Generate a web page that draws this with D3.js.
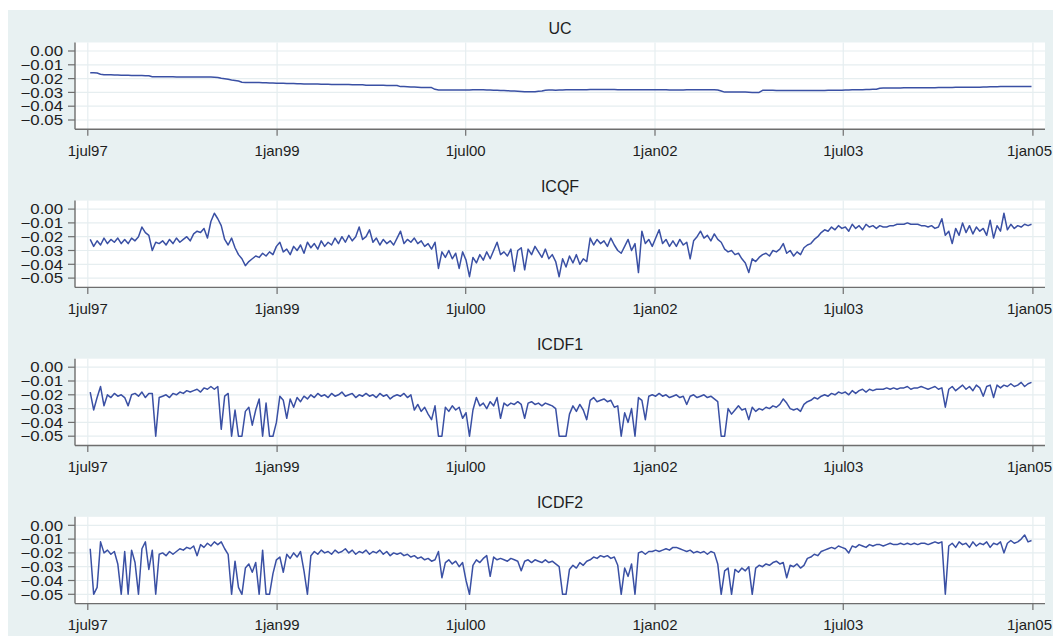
<!DOCTYPE html>
<html>
<head>
<meta charset="utf-8">
<script src="https://cdn.jsdelivr.net/npm/d3@7"></script>
<style>
    body { margin: 0; background: white; }
    text { font-family: "Liberation Sans", Arial, sans-serif; fill: #1e1e1e; }
</style>
</head>
<body>
<div id="chart-container"></div>
<script>
// sampled every 10 days from 8jul97
const startDate = new Date(1997, 6, 8);
const stepDays = 10;

const panelTitles = ['UC', 'ICQF', 'ICDF1', 'ICDF2'];

const ucValues = [
    -.0157,-.0158,-.016,-.0168,-.0172,-.0173,-.0173,-.0174,-.0174,-.0175,
    -.0175,-.0176,-.0177,-.0177,-.0178,-.0178,-.0179,-.0179,-.0186,-.0187,
    -.0187,-.0187,-.0187,-.0187,-.0187,-.0188,-.0188,-.0188,-.0188,-.0188,
    -.0188,-.0188,-.0188,-.0189,-.0189,-.0189,-.019,-.0192,-.0198,-.0201,
    -.0205,-.021,-.0213,-.0218,-.0226,-.0228,-.0228,-.0228,-.0229,-.0229,
    -.023,-.023,-.0231,-.0232,-.0233,-.0233,-.0234,-.0235,-.0236,-.0236,
    -.0237,-.0238,-.0239,-.0239,-.024,-.024,-.024,-.0241,-.0241,-.0241,
    -.0242,-.0242,-.0242,-.0243,-.0243,-.0243,-.0244,-.0244,-.0244,-.0245,
    -.0248,-.0248,-.0248,-.0249,-.0249,-.0249,-.025,-.025,-.025,-.025,
    -.0258,-.0258,-.0259,-.026,-.026,-.0262,-.0264,-.0265,-.0265,-.0265,
    -.0278,-.0282,-.0282,-.0282,-.0282,-.0282,-.0282,-.0283,-.0283,-.0283,
    -.0283,-.028,-.028,-.0281,-.0281,-.0282,-.0283,-.0284,-.0285,-.0286,
    -.0287,-.0288,-.0289,-.029,-.0291,-.0293,-.0296,-.0296,-.0295,-.0295,
    -.0292,-.029,-.0284,-.0283,-.0283,-.0284,-.0283,-.0282,-.0281,-.028,
    -.028,-.028,-.028,-.028,-.028,-.0279,-.0279,-.0279,-.0279,-.0279,
    -.0279,-.0279,-.0279,-.028,-.028,-.028,-.028,-.028,-.028,-.028,
    -.028,-.028,-.028,-.028,-.0281,-.0281,-.0281,-.0281,-.0282,-.0282,
    -.0282,-.0282,-.0282,-.0281,-.0281,-.028,-.028,-.028,-.028,-.028,
    -.028,-.0281,-.0283,-.029,-.0298,-.0298,-.0297,-.0297,-.0297,-.0298,
    -.0298,-.0299,-.03,-.03,-.03,-.0285,-.0285,-.0285,-.0285,-.0286,
    -.0286,-.0286,-.0286,-.0286,-.0286,-.0286,-.0286,-.0286,-.0286,-.0286,
    -.0286,-.0286,-.0286,-.0286,-.0285,-.0285,-.0285,-.0284,-.0284,-.0283,
    -.0282,-.0281,-.0281,-.028,-.028,-.0279,-.0279,-.0278,-.0277,-.027,
    -.0269,-.0269,-.0268,-.0268,-.0268,-.0268,-.0267,-.0267,-.0267,-.0267,
    -.0266,-.0266,-.0266,-.0266,-.0266,-.0266,-.0265,-.0264,-.0264,-.0264,
    -.0264,-.0263,-.0263,-.0263,-.0263,-.0263,-.0263,-.0262,-.0262,-.0261,
    -.026,-.0259,-.0259,-.0259,-.0258,-.0258,-.0258,-.0258,-.0258,-.0258,
    -.0258,-.0257,-.0257,-.0257
];

const icqfValues = [
    -.022,-.027,-.023,-.026,-.021,-.025,-.022,-.024,-.021,-.025,
    -.022,-.025,-.021,-.023,-.020,-.013,-.017,-.019,-.030,-.024,
    -.025,-.023,-.026,-.022,-.025,-.021,-.024,-.022,-.020,-.023,
    -.018,-.016,-.017,-.014,-.021,-.009,-.003,-.007,-.012,-.022,
    -.026,-.021,-.028,-.033,-.036,-.041,-.038,-.036,-.034,-.035,
    -.032,-.034,-.031,-.033,-.027,-.024,-.031,-.029,-.033,-.027,
    -.030,-.026,-.032,-.024,-.028,-.025,-.029,-.023,-.027,-.024,
    -.026,-.021,-.025,-.020,-.024,-.019,-.023,-.020,-.013,-.022,
    -.020,-.015,-.024,-.021,-.026,-.022,-.025,-.023,-.026,-.021,
    -.016,-.025,-.022,-.024,-.021,-.025,-.023,-.027,-.025,-.029,
    -.024,-.043,-.031,-.035,-.030,-.036,-.032,-.043,-.031,-.037,
    -.049,-.035,-.039,-.033,-.037,-.031,-.036,-.030,-.024,-.033,
    -.031,-.034,-.029,-.045,-.030,-.028,-.044,-.029,-.033,-.027,
    -.031,-.035,-.029,-.036,-.033,-.038,-.049,-.036,-.042,-.034,
    -.039,-.033,-.040,-.036,-.038,-.021,-.026,-.022,-.025,-.023,
    -.027,-.021,-.026,-.030,-.032,-.027,-.022,-.030,-.025,-.046,
    -.016,-.025,-.022,-.027,-.021,-.015,-.025,-.022,-.027,-.023,
    -.027,-.022,-.026,-.024,-.036,-.023,-.020,-.016,-.021,-.019,
    -.023,-.018,-.022,-.024,-.029,-.031,-.030,-.033,-.032,-.036,
    -.039,-.046,-.036,-.038,-.035,-.033,-.032,-.034,-.030,-.031,
    -.029,-.025,-.032,-.030,-.034,-.031,-.033,-.028,-.026,-.025,
    -.022,-.020,-.017,-.015,-.016,-.013,-.015,-.012,-.014,-.013,
    -.016,-.011,-.014,-.012,-.015,-.011,-.013,-.012,-.014,-.012,
    -.013,-.013,-.012,-.012,-.011,-.011,-.011,-.010,-.011,-.011,
    -.011,-.012,-.012,-.013,-.012,-.014,-.013,-.007,-.019,-.016,
    -.025,-.014,-.019,-.010,-.017,-.012,-.018,-.013,-.016,-.014,
    -.019,-.008,-.021,-.012,-.016,-.003,-.015,-.011,-.014,-.012,
    -.013,-.011,-.012,-.011
];

const icdf1Values = [
    -.018,-.031,-.022,-.014,-.028,-.020,-.022,-.019,-.021,-.020,
    -.022,-.028,-.020,-.019,-.021,-.018,-.022,-.019,-.019,-.050,
    -.022,-.021,-.020,-.022,-.019,-.020,-.018,-.019,-.017,-.018,
    -.017,-.016,-.018,-.015,-.016,-.014,-.016,-.014,-.045,-.021,
    -.019,-.050,-.031,-.050,-.050,-.032,-.029,-.042,-.031,-.023,
    -.050,-.026,-.050,-.050,-.040,-.021,-.024,-.037,-.023,-.029,
    -.022,-.025,-.021,-.023,-.020,-.022,-.019,-.021,-.020,-.022,
    -.019,-.021,-.020,-.018,-.021,-.020,-.019,-.022,-.020,-.021,
    -.019,-.021,-.020,-.022,-.019,-.021,-.020,-.023,-.021,-.020,
    -.021,-.019,-.022,-.020,-.031,-.027,-.032,-.029,-.034,-.038,
    -.028,-.050,-.050,-.029,-.032,-.028,-.031,-.029,-.037,-.033,
    -.050,-.031,-.022,-.028,-.026,-.030,-.025,-.028,-.022,-.037,
    -.026,-.028,-.026,-.027,-.025,-.027,-.037,-.026,-.025,-.027,
    -.026,-.028,-.026,-.027,-.028,-.030,-.050,-.050,-.050,-.034,
    -.028,-.032,-.027,-.031,-.038,-.024,-.022,-.025,-.024,-.023,
    -.025,-.024,-.029,-.028,-.050,-.033,-.040,-.030,-.050,-.022,
    -.024,-.038,-.021,-.020,-.021,-.019,-.021,-.020,-.022,-.021,
    -.020,-.022,-.021,-.027,-.021,-.020,-.022,-.021,-.020,-.022,
    -.021,-.023,-.025,-.050,-.050,-.030,-.034,-.031,-.028,-.031,
    -.030,-.038,-.029,-.032,-.030,-.031,-.029,-.030,-.028,-.029,
    -.027,-.023,-.026,-.030,-.031,-.030,-.032,-.027,-.025,-.024,
    -.022,-.023,-.021,-.020,-.021,-.019,-.020,-.018,-.019,-.018,
    -.020,-.017,-.019,-.017,-.016,-.018,-.016,-.017,-.016,-.016,
    -.016,-.015,-.016,-.015,-.016,-.015,-.015,-.014,-.016,-.015,
    -.015,-.014,-.015,-.016,-.015,-.014,-.016,-.015,-.029,-.016,
    -.014,-.017,-.015,-.013,-.016,-.014,-.017,-.013,-.015,-.021,
    -.014,-.013,-.022,-.013,-.015,-.013,-.014,-.012,-.014,-.013,
    -.011,-.014,-.012,-.011
];

const icdf2Values = [
    -.017,-.050,-.045,-.012,-.020,-.018,-.021,-.019,-.028,-.050,
    -.019,-.050,-.018,-.027,-.050,-.017,-.012,-.032,-.018,-.050,
    -.021,-.020,-.022,-.019,-.021,-.019,-.017,-.018,-.016,-.017,
    -.015,-.022,-.014,-.016,-.013,-.015,-.012,-.014,-.012,-.017,
    -.021,-.050,-.026,-.045,-.050,-.031,-.028,-.034,-.027,-.050,
    -.018,-.050,-.050,-.035,-.025,-.023,-.034,-.021,-.024,-.020,
    -.023,-.019,-.033,-.050,-.022,-.019,-.021,-.018,-.020,-.019,
    -.021,-.018,-.020,-.019,-.017,-.020,-.018,-.021,-.019,-.020,
    -.018,-.021,-.019,-.020,-.018,-.021,-.019,-.022,-.020,-.021,
    -.020,-.022,-.021,-.023,-.022,-.024,-.023,-.025,-.024,-.026,
    -.025,-.019,-.038,-.027,-.025,-.028,-.026,-.030,-.027,-.040,
    -.050,-.029,-.025,-.027,-.024,-.022,-.037,-.023,-.025,-.024,
    -.025,-.026,-.024,-.025,-.026,-.033,-.026,-.025,-.027,-.025,
    -.026,-.027,-.025,-.027,-.026,-.028,-.030,-.050,-.050,-.032,
    -.029,-.031,-.027,-.029,-.026,-.025,-.023,-.024,-.022,-.023,
    -.022,-.024,-.023,-.029,-.050,-.031,-.037,-.028,-.050,-.020,
    -.019,-.021,-.019,-.019,-.018,-.019,-.018,-.017,-.018,-.016,
    -.016,-.017,-.018,-.019,-.018,-.020,-.019,-.020,-.019,-.021,
    -.019,-.020,-.028,-.050,-.033,-.031,-.050,-.032,-.034,-.031,
    -.033,-.030,-.050,-.031,-.029,-.030,-.028,-.029,-.027,-.026,
    -.028,-.027,-.038,-.029,-.030,-.028,-.031,-.029,-.024,-.023,
    -.021,-.022,-.019,-.018,-.017,-.016,-.017,-.015,-.016,-.017,
    -.020,-.015,-.016,-.014,-.015,-.016,-.014,-.015,-.014,-.014,
    -.015,-.014,-.013,-.014,-.014,-.013,-.014,-.013,-.014,-.013,
    -.014,-.013,-.013,-.014,-.013,-.012,-.013,-.012,-.050,-.015,
    -.013,-.016,-.012,-.014,-.013,-.016,-.012,-.015,-.013,-.014,
    -.012,-.016,-.013,-.014,-.012,-.020,-.013,-.011,-.013,-.012,
    -.010,-.007,-.012,-.011
];

const seriesList = [ucValues, icqfValues, icdf1Values, icdf2Values];

const yTicks = [0, -0.01, -0.02, -0.03, -0.04, -0.05];
const xTickDates = [
    new Date(1997, 6, 1), new Date(1999, 0, 1), new Date(2000, 6, 1),
    new Date(2002, 0, 1), new Date(2003, 6, 1), new Date(2005, 0, 1)
];
const xTickLabels = ['1jul97', '1jan99', '1jul00', '1jan02', '1jul03', '1jan05'];

// layout
const width = 1053;
const height = 636;
const plotLeft = 75;
const plotRight = 1045;
const firstPanelTop = 42.5;
const panelStep = 158.1;
const zeroOffset = 8.5;     // from plot top to the 0.00 line
const tickSpan = 69;        // 0.00 -> -0.05
const plotHeight = 86.8;

const bgColor = '#e8f1f2';
const gridColor = '#e6eef0';
const axisColor = '#6e6e6e';
const lineColor = '#3a50a4';

const svg = d3.select('#chart-container')
    .append('svg')
    .attr('width', width)
    .attr('height', height);

svg.append('rect')
    .attr('x', 8)
    .attr('y', 10)
    .attr('width', width - 8)
    .attr('height', height - 10)
    .style('fill', bgColor);

const x = d3.scaleTime()
    .domain([xTickDates[0], xTickDates[xTickDates.length - 1]])
    .range([87.8, 1032.9]);

const dates = d3.range(ucValues.length).map(i => d3.timeDay.offset(startDate, i * stepDays));

const formatY = d => (d < 0 ? '\u2212' : '') + Math.abs(d).toFixed(2);

function drawPanel(values, title, idx)
{
    const top = firstPanelTop + idx * panelStep;
    const bottom = top + plotHeight;
    const zeroY = top + zeroOffset;

    const y = d3.scaleLinear()
        .domain([-0.05, 0])
        .range([zeroY + tickSpan, zeroY]);

    const g = svg.append('g');

    // plot region
    g.append('rect')
        .attr('x', plotLeft)
        .attr('y', top)
        .attr('width', plotRight - plotLeft)
        .attr('height', plotHeight)
        .style('fill', 'white');

    // grid
    g.selectAll('.hgrid')
        .data(yTicks)
        .join('line')
        .attr('x1', plotLeft)
        .attr('x2', plotRight)
        .attr('y1', d => y(d))
        .attr('y2', d => y(d))
        .attr('stroke', gridColor)
        .attr('stroke-width', 1.2)
        .classed('hgrid', true);

    g.selectAll('.vgrid')
        .data(xTickDates)
        .join('line')
        .attr('x1', d => x(d))
        .attr('x2', d => x(d))
        .attr('y1', top)
        .attr('y2', bottom)
        .attr('stroke', gridColor)
        .attr('stroke-width', 1.2)
        .classed('vgrid', true);

    // series
    const line = d3.line()
        .x((d, i) => x(dates[i]))
        .y(d => y(d));

    g.append('path')
        .datum(values)
        .attr('d', line)
        .attr('fill', 'none')
        .attr('stroke', lineColor)
        .attr('stroke-width', 1.5)
        .attr('stroke-linejoin', 'round');

    // axes
    g.append('line')
        .attr('x1', plotLeft).attr('x2', plotLeft)
        .attr('y1', top).attr('y2', bottom)
        .attr('stroke', axisColor).attr('stroke-width', 1.4);

    g.append('line')
        .attr('x1', plotLeft).attr('x2', plotRight)
        .attr('y1', bottom).attr('y2', bottom)
        .attr('stroke', axisColor).attr('stroke-width', 1.4);

    g.selectAll('.ytick')
        .data(yTicks)
        .join('line')
        .attr('x1', plotLeft - 7)
        .attr('x2', plotLeft)
        .attr('y1', d => y(d))
        .attr('y2', d => y(d))
        .attr('stroke', axisColor)
        .attr('stroke-width', 1.2)
        .classed('ytick', true);

    // labels sit tight, as in the original
    g.selectAll('.ylabel')
        .data(yTicks)
        .join('text')
        .attr('transform', d => `translate(63, ${y(d)}) scale(1.16, 1)`)
        .attr('text-anchor', 'end')
        .attr('dy', '0.36em')
        .style('font-size', '14.5px')
        .text(formatY)
        .classed('ylabel', true);

    g.selectAll('.xtick')
        .data(xTickDates)
        .join('line')
        .attr('x1', d => x(d))
        .attr('x2', d => x(d))
        .attr('y1', bottom)
        .attr('y2', bottom + 6.5)
        .attr('stroke', axisColor)
        .attr('stroke-width', 1.2)
        .classed('xtick', true);

    g.selectAll('.xlabel')
        .data(xTickDates)
        .join('text')
        .attr('x', (d, i) => i === xTickDates.length - 1 ? width - 1 : x(d))
        .attr('y', bottom + 26.5)
        .attr('text-anchor', (d, i) => i === xTickDates.length - 1 ? 'end' : 'middle')
        .style('font-size', '15px')
        .text((d, i) => xTickLabels[i])
        .classed('xlabel', true);

    // title
    g.append('text')
        .attr('x', (plotLeft + plotRight) / 2)
        .attr('y', top - 9)
        .attr('text-anchor', 'middle')
        .style('font-size', '16px')
        .text(title);
}

seriesList.forEach((values, i) => drawPanel(values, panelTitles[i], i));
</script>
</body>
</html>
